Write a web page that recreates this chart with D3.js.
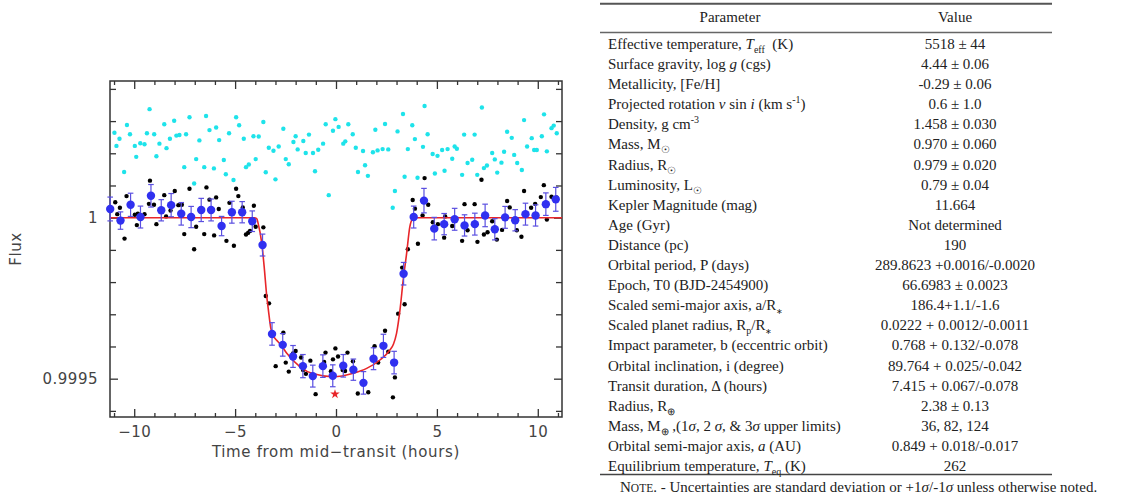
<!DOCTYPE html>
<html>
<head>
<meta charset="utf-8">
<script src="https://cdn.jsdelivr.net/npm/d3@7"></script>
<style>
  body { margin: 0; background: #fff; }
  .axis path { display: none; }
  .axis line { stroke: #333; stroke-width: 1.3; }
  .axis text { font-family: "DejaVu Sans", sans-serif; font-size: 15px; fill: #444; letter-spacing: 0.5px; }
  .tbl { font-family: "Liberation Serif", "Times New Roman", serif; font-size: 15px; fill: #222; }
</style>
</head>
<body>
<script>
// light curve: time from mid-transit (hours) and flux offset from 1 in ppm
var cyanTime = [-10.98,-10.88,-10.73,-10.50,-10.36,-10.21,-9.97,-9.90,-9.70,-9.49,-9.37,-9.24,-9.01,-8.90,-8.75,-8.51,-8.40,-8.23,-8.02,-7.91,-7.76,-7.52,-7.43,-7.26,-7.03,-6.93,-6.77,-6.53,-6.44,-6.27,-6.05,-5.94,-5.79,-5.56,-5.46,-5.30,-5.08,-4.95,-4.80,-4.57,-4.46,-4.32,-4.09,-3.98,-3.83,-3.60,-3.48,-3.33,-3.10,-3.00,-2.84,-2.61,-2.49,-2.34,-2.11,-2.00,-1.90,-1.62,-1.50,-1.34,-1.14,-1.04,-0.88,-0.64,-0.51,-0.36,-0.15,-0.03,0.13,0.36,0.46,0.61,0.83,0.98,1.09,1.34,1.44,1.58,1.83,1.95,2.06,2.31,2.43,2.59,2.81,2.92,3.05,3.32,3.40,3.56,3.78,3.91,4.04,4.31,4.39,4.54,4.79,4.90,5.03,5.26,5.38,5.53,5.76,5.88,5.99,6.25,6.35,6.52,6.75,6.87,7.00,7.23,7.33,7.48,7.74,7.87,7.99,8.20,8.33,8.48,8.71,8.83,8.98,9.21,9.32,9.47,9.70,9.82,9.95,10.20,10.31,10.45,10.68,10.79,10.94];
var cyanPpm = [264,223,245,142,288,259,223,189,231,228,262,337,259,191,230,290,216,245,301,255,257,157,259,312,106,182,240,157,316,272,153,280,241,179,135,262,117,312,287,245,157,165,253,182,252,297,141,217,208,119,221,276,182,166,235,253,212,238,201,258,201,144,211,230,290,70,270,306,282,230,237,290,259,217,142,207,163,130,203,273,209,213,291,212,31,83,268,322,127,213,287,244,124,220,347,259,198,137,192,210,146,213,183,221,214,133,258,170,180,258,133,342,154,162,201,181,140,171,205,267,248,195,170,148,303,221,247,210,210,253,321,206,278,286,262];

var blackTime = [-10.94,-10.84,-10.71,-10.48,-10.38,-9.97,-9.87,-9.82,-9.49,-9.27,-9.22,-9.02,-8.90,-8.51,-8.42,-8.20,-7.99,-7.81,-7.64,-7.52,-7.26,-7.03,-6.93,-6.53,-6.42,-6.27,-6.04,-5.94,-5.81,-5.43,-5.28,-5.06,-4.95,-4.84,-4.62,-4.46,-4.35,-4.26,-4.07,-3.98,-3.60,-3.48,-3.32,-2.99,-2.61,-2.49,-2.34,-2.13,-2.00,-1.73,-1.63,-1.49,-1.27,-1.01,-0.59,-0.52,-0.25,-0.15,-0.03,0.10,0.33,0.45,0.57,0.84,1.08,1.60,1.91,2.09,2.43,2.59,2.82,2.92,3.08,3.28,3.40,3.56,3.80,3.91,4.06,4.29,4.39,4.57,4.80,5.05,5.36,5.41,5.76,6.25,6.37,6.52,6.87,7.01,7.21,7.33,7.51,7.74,7.97,8.23,8.48,8.61,8.96,9.19,9.32,9.67,9.87,10.15,10.30,10.45,10.68,10.93];
var blackPpm = [48,11,31,-65,67,9,-23,12,11,43,115,40,-20,70,4,22,83,39,40,-51,90,-98,-28,-51,94,56,-55,63,27,-72,46,-87,90,67,32,-52,-47,-41,37,-28,-30,-243,-266,-461,-357,-450,-478,-422,-414,-434,-473,-485,-444,-548,-448,-419,-477,-440,-406,-431,-473,-476,-419,-446,-546,-542,-399,-450,-351,-416,-558,-496,-298,-155,-269,-98,55,28,-81,7,123,40,-14,-20,-62,4,-26,-72,42,-39,42,-75,118,-52,-45,-11,-68,-38,52,32,-39,-59,83,31,43,64,101,-6,65,63];

// 30-minute bins with error bars
var binTime = [-11.19,-10.68,-10.18,-9.69,-9.17,-8.66,-8.17,-7.67,-7.18,-6.68,-6.19,-5.67,-5.16,-4.65,-4.15,-3.64,-3.17,-2.64,-2.13,-1.64,-1.15,-0.65,-0.16,0.36,0.86,1.36,1.86,2.35,2.88,3.35,3.85,4.36,4.87,5.36,5.88,6.37,6.88,7.39,7.87,8.38,8.88,9.39,9.89,10.40,10.89];
var binPpm = [27,-9,40,2,68,23,39,12,2,24,24,-26,17,17,-11,-85,-361,-395,-431,-461,-492,-461,-491,-460,-472,-513,-438,-398,-450,-174,2,53,-34,-20,-5,-24,-20,7,-36,1,-8,11,7,42,57];
var binErr = [37,27,36,34,35,33,36,35,33,36,34,30,34,33,32,34,35,35,34,36,34,35,34,35,33,35,34,36,35,35,34,38,35,33,34,33,34,35,33,34,33,34,33,35,37];

// transit model
var modelTime = [-11.2,-4.05,-3.93,-3.85,-3.68,-3.56,-3.43,-3.35,-3.23,-3.10,-2.94,-2.77,-2.44,-1.78,-1.12,-0.13,0.86,1.52,2.18,2.67,2.85,3.00,3.17,3.33,3.50,3.66,3.78,3.90,11.2];
var modelPpm = [0,0,-3,-20,-79,-152,-245,-287,-344,-367,-381,-392,-421,-463,-485,-494,-483,-468,-442,-411,-392,-359,-287,-194,-111,-28,-5,0,0];

var starTime = [-0.05], starPpm = [-548];

var xMajorTicks = [-10, -5, 0, 5, 10];
var yMajorTicks = [1, 0.9995];
var yTickLabels = ["1", "0.9995"];

// table
var paramLabels = [
  "Effective temperature, <i>T</i><sub>eff</sub>  (K)",
  "Surface gravity, log <i>g</i> (cgs)",
  "Metallicity, [Fe/H]",
  "Projected rotation <i>v</i> sin <i>i</i> (km s<sup>-1</sup>)",
  "Density, g cm<sup>-3</sup>",
  "Mass, M<sub>☉</sub>",
  "Radius, R<sub>☉</sub>",
  "Luminosity, L<sub>☉</sub>",
  "Kepler Magnitude (mag)",
  "Age (Gyr)",
  "Distance (pc)",
  "Orbital period, P (days)",
  "Epoch, T0 (BJD-2454900)",
  "Scaled semi-major axis, a/R<sub>∗</sub>",
  "Scaled planet radius, R<sub>p</sub>/R<sub>∗</sub>",
  "Impact parameter, b (eccentric orbit)",
  "Orbital inclination, i (degree)",
  "Transit duration, Δ (hours)",
  "Radius, R<sub>⊕</sub>",
  "Mass, M<sub>⊕</sub> ,(1<i>σ</i>, 2 <i>σ</i>, & 3<i>σ</i> upper limits)",
  "Orbital semi-major axis, <i>a</i> (AU)",
  "Equilibrium temperature, <i>T</i><sub>eq</sub> (K)"
];
var paramValues = [
  "5518 ± 44", "4.44 ± 0.06", "-0.29 ± 0.06", "0.6 ± 1.0", "1.458 ± 0.030",
  "0.970 ± 0.060", "0.979 ± 0.020", "0.79 ± 0.04", "11.664", "Not determined",
  "190", "289.8623 +0.0016/-0.0020", "66.6983 ± 0.0023", "186.4+1.1/-1.6",
  "0.0222 + 0.0012/-0.0011", "0.768 + 0.132/-0.078", "89.764 + 0.025/-0.042",
  "7.415 + 0.067/-0.078", "2.38 ± 0.13", "36, 82, 124", "0.849 + 0.018/-0.017", "262"
];
var tableNote = "N<sc>OTE</sc>. - Uncertainties are standard deviation or +1<i>σ</i>/-1<i>σ</i> unless otherwise noted.";

var W = 1140, H = 500;
var svg = d3.select("body").append("svg")
  .attr("width", W)
  .attr("height", H)
  .style("background", "#fff");

// ---------- light curve ----------
var x = d3.scaleLinear().domain([-11.2, 11.2]).range([110, 562]);
var y = d3.scaleLinear().domain([0.999381, 1.0004245]).range([417, 81]);
function fy(ppm) { return y(1 + ppm * 1e-6); }

var xMinor = d3.range(-11, 12, 1).filter(function(d){ return xMajorTicks.indexOf(d) < 0; });
var yMinor = d3.range(-6, 5).map(function(k){ return 1 + k * 0.0001; })
  .filter(function(d){ return Math.abs(d - 1) > 1e-9 && Math.abs(d - 0.9995) > 1e-9; });

function addAxis(gen, tx, ty) {
  return svg.append("g").attr("class", "axis")
    .attr("transform", "translate(" + tx + "," + ty + ")")
    .call(gen);
}
// bottom
addAxis(d3.axisBottom(x).tickValues(xMajorTicks).tickSize(-8).tickPadding(9.5).tickFormat(d3.format("d")), 0, 417);
addAxis(d3.axisBottom(x).tickValues(xMinor).tickSize(-4).tickFormat(""), 0, 417);
// top
addAxis(d3.axisTop(x).tickValues(xMajorTicks).tickSize(-8).tickFormat(""), 0, 81);
addAxis(d3.axisTop(x).tickValues(xMinor).tickSize(-4).tickFormat(""), 0, 81);
// left
addAxis(d3.axisLeft(y).tickValues(yMajorTicks).tickSize(-8).tickPadding(12)
  .tickFormat(function(d, i){ return yTickLabels[i]; }), 110, 0);
addAxis(d3.axisLeft(y).tickValues(yMinor).tickSize(-6).tickFormat(""), 110, 0);
// right
addAxis(d3.axisRight(y).tickValues(yMajorTicks).tickSize(-8).tickFormat(""), 562, 0);
addAxis(d3.axisRight(y).tickValues(yMinor).tickSize(-6).tickFormat(""), 562, 0);

svg.append("rect")
  .attr("x", 110).attr("y", 81)
  .attr("width", 452).attr("height", 336)
  .attr("fill", "none").attr("stroke", "#333").attr("stroke-width", 1.5);

// cyan points
svg.append("g").selectAll("circle")
  .data(d3.zip(cyanTime, cyanPpm))
  .enter().append("circle")
  .attr("cx", function(d){ return x(d[0]); })
  .attr("cy", function(d){ return fy(d[1]); })
  .attr("r", 2.2)
  .attr("fill", "#1ee3ea");

// black points
svg.append("g").selectAll("circle")
  .data(d3.zip(blackTime, blackPpm))
  .enter().append("circle")
  .attr("cx", function(d){ return x(d[0]); })
  .attr("cy", function(d){ return fy(d[1]); })
  .attr("r", 2.2)
  .attr("fill", "#000");

// model curve
var line = d3.line()
  .x(function(d){ return x(d[0]); })
  .y(function(d){ return fy(d[1]); })
  .curve(d3.curveMonotoneX);
svg.append("path")
  .datum(d3.zip(modelTime, modelPpm))
  .attr("d", line)
  .attr("fill", "none")
  .attr("stroke", "#e8262a")
  .attr("stroke-width", 1.6);

// error bars
var bins = d3.zip(binTime, binPpm, binErr);
var eb = svg.append("g").attr("stroke", "#5a4fe0").attr("stroke-width", 1.2);
eb.selectAll(".v").data(bins).enter().append("line")
  .attr("x1", function(d){ return x(d[0]); })
  .attr("x2", function(d){ return x(d[0]); })
  .attr("y1", function(d){ return fy(d[1] + d[2]); })
  .attr("y2", function(d){ return fy(d[1] - d[2]); });
[1, -1].forEach(function(s){
  eb.selectAll(".c" + s).data(bins).enter().append("line")
    .attr("x1", function(d){ return x(d[0]) - 2.8; })
    .attr("x2", function(d){ return x(d[0]) + 2.8; })
    .attr("y1", function(d){ return fy(d[1] + s * d[2]); })
    .attr("y2", function(d){ return fy(d[1] + s * d[2]); });
});
svg.append("g").selectAll("circle")
  .data(bins).enter().append("circle")
  .attr("cx", function(d){ return x(d[0]); })
  .attr("cy", function(d){ return fy(d[1]); })
  .attr("r", 4.2)
  .attr("fill", "#3030f0");

// mid-transit star
svg.append("g").selectAll("path")
  .data(d3.zip(starTime, starPpm)).enter().append("path")
  .attr("d", d3.symbol().type(d3.symbolStar).size(28))
  .attr("transform", function(d){ return "translate(" + x(d[0]) + "," + fy(d[1]) + ")"; })
  .attr("fill", "#e8262a");

// axis titles
svg.append("text")
  .attr("x", 336).attr("y", 457)
  .attr("text-anchor", "middle")
  .style("font-family", "DejaVu Sans, sans-serif").style("font-size", "15px")
  .style("letter-spacing", "0.65px").style("fill", "#444")
  .text("Time from mid\u2212transit (hours)");
svg.append("text")
  .attr("transform", "translate(21,249) rotate(-90)")
  .attr("text-anchor", "middle")
  .style("font-family", "DejaVu Sans, sans-serif").style("font-size", "15px")
  .style("letter-spacing", "0.6px").style("fill", "#444")
  .text("Flux");

// ---------- table ----------
function richText(sel, str) {
  var parts = str.split(/(<\/?(?:i|sub|sup|sc)>)/);
  var italic = false, shift = 0, small = false, cur = 0;
  parts.forEach(function(p){
    if (p === "<i>") { italic = true; return; }
    if (p === "</i>") { italic = false; return; }
    if (p === "<sub>") { shift = 4; small = true; return; }
    if (p === "<sup>") { shift = -6; small = true; return; }
    if (p === "</sub>" || p === "</sup>") { shift = 0; small = false; return; }
    if (p === "<sc>") { small = "sc"; return; }
    if (p === "</sc>") { small = false; return; }
    if (!p) return;
    var t = sel.append("tspan")
      .attr("dy", shift - cur)
      .style("white-space", "pre")
      .text(p);
    cur = shift;
    if (italic) t.style("font-style", "italic");
    if (small === true) t.style("font-size", p === "∗" ? "8px" : "10px");
    if (small === "sc") t.style("font-size", "11.5px");
  });
}

var tLeft = 600, tRight = 1052;
var colParam = 608, colValue = 955;
var rowY = d3.scaleLinear().domain([0, paramLabels.length - 1]).range([49, 471]);

svg.append("line").attr("x1", tLeft).attr("x2", tRight).attr("y1", 3.8).attr("y2", 3.8)
  .attr("stroke", "#555").attr("stroke-width", 2);
svg.append("line").attr("x1", tLeft).attr("x2", tRight).attr("y1", 32.5).attr("y2", 32.5)
  .attr("stroke", "#666").attr("stroke-width", 1.3);
svg.append("line").attr("x1", tLeft).attr("x2", tRight).attr("y1", 474.5).attr("y2", 474.5)
  .attr("stroke", "#444").attr("stroke-width", 1.3);

svg.append("text").attr("class", "tbl").attr("x", 730).attr("y", 22)
  .attr("text-anchor", "middle").text("Parameter");
svg.append("text").attr("class", "tbl").attr("x", colValue).attr("y", 22)
  .attr("text-anchor", "middle").text("Value");

svg.append("g").selectAll("text")
  .data(paramLabels).enter().append("text")
  .attr("class", "tbl")
  .attr("x", colParam)
  .attr("y", function(d, i){ return rowY(i); })
  .each(function(d){ richText(d3.select(this), d); });

svg.append("g").selectAll("text")
  .data(paramValues).enter().append("text")
  .attr("class", "tbl")
  .attr("x", colValue)
  .attr("y", function(d, i){ return rowY(i); })
  .attr("text-anchor", "middle")
  .text(function(d){ return d; });

var note = svg.append("text").attr("class", "tbl").attr("x", 620).attr("y", 492);
richText(note, tableNote);
</script>
</body>
</html>
